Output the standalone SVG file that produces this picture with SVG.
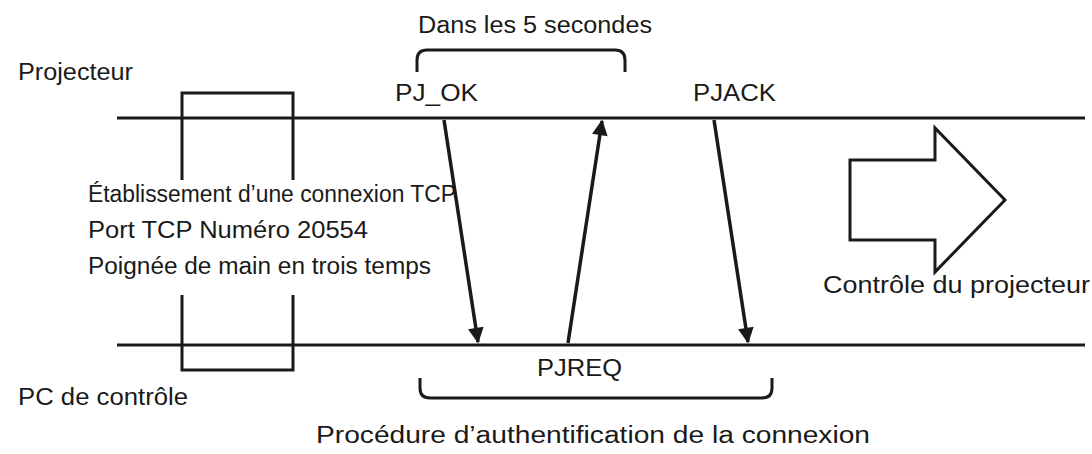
<svg xmlns="http://www.w3.org/2000/svg" width="1092" height="454" viewBox="0 0 1092 454">
<style>
text{font-family:"Liberation Sans",Arial,sans-serif;font-size:23px;fill:#1a1a1a}
.l{stroke:#1a1a1a;stroke-width:3;fill:none}
.a{stroke:#1a1a1a;stroke-width:3.5;fill:none}
</style>
<defs><marker id="ah" viewBox="0 0 10 10" refX="9" refY="5" markerWidth="6" markerHeight="4.5" orient="auto" markerUnits="strokeWidth"><path d="M0,0L10,5L0,10z" fill="#1a1a1a"/></marker></defs>
<rect width="1092" height="454" fill="#fff"/>
<g id="projecteur"><line class="l" x1="117" y1="118" x2="1085" y2="118"/><text x="18" y="80" textLength="115" lengthAdjust="spacingAndGlyphs">Projecteur</text></g>
<g id="pc"><line class="l" x1="117" y1="345" x2="1085" y2="345"/><text x="18" y="405" textLength="170" lengthAdjust="spacingAndGlyphs">PC de contrôle</text></g>
<g id="tcp">
<path class="l" d="M182,180V93H293V180M182,295V370H293V295"/>
<text x="88" y="202" textLength="368" lengthAdjust="spacingAndGlyphs">Établissement d’une connexion TCP</text>
<text x="88" y="238" textLength="280" lengthAdjust="spacingAndGlyphs">Port TCP Numéro 20554</text>
<text x="88" y="274" textLength="343" lengthAdjust="spacingAndGlyphs">Poignée de main en trois temps</text>
</g>
<g id="controle">
<path class="l" d="M850,160H935V128L1005,200L935,272V240H850Z" stroke-width="2"/>
<text x="823" y="293" textLength="267" lengthAdjust="spacingAndGlyphs">Contrôle du projecteur</text>
</g>
<g id="braces">
<path class="l" stroke-width="2" d="M417,72V60Q417,50 427,50H615Q625,50 625,60V72"/>
<text x="418" y="33" textLength="234" lengthAdjust="spacingAndGlyphs">Dans les 5 secondes</text>
<path class="l" stroke-width="2" d="M420,378V388Q420,398 430,398H762Q772,398 772,388V378"/>
<text x="316" y="443" textLength="554" lengthAdjust="spacingAndGlyphs">Procédure d’authentification de la connexion</text>
</g>
<g id="connectors">
<line class="a" x1="444" y1="120" x2="478" y2="342" marker-end="url(#ah)"/>
<line class="a" x1="568" y1="343" x2="602" y2="121" marker-end="url(#ah)"/>
<line class="a" x1="714" y1="120" x2="748" y2="342" marker-end="url(#ah)"/>
</g>
<text x="395" y="101" textLength="83" lengthAdjust="spacingAndGlyphs">PJ_OK</text>
<text x="693" y="101" textLength="83" lengthAdjust="spacingAndGlyphs">PJACK</text>
<text x="537" y="376" textLength="85" lengthAdjust="spacingAndGlyphs">PJREQ</text>
</svg>
